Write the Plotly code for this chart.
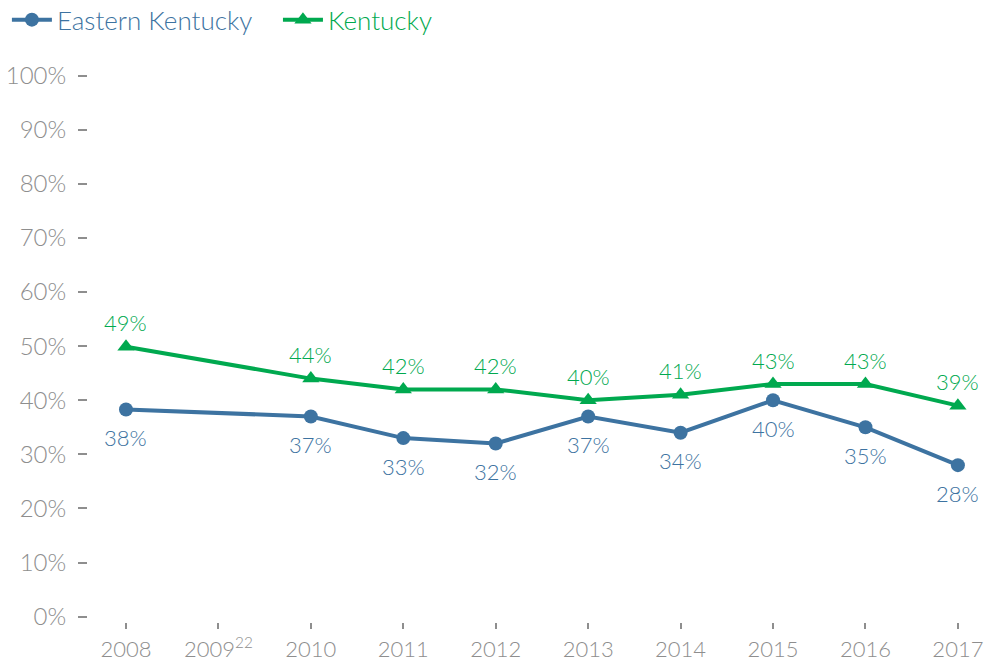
import plotly.graph_objects as go

years = ["2008", "2009<sup>22</sup>", "2010", "2011", "2012", "2013", "2014", "2015", "2016", "2017"]
eastern_ky = [38.3, None, 37, 33, 32, 37, 34, 40, 35, 28]
eastern_ky_labels = ["38%", "", "37%", "33%", "32%", "37%", "34%", "40%", "35%", "28%"]
kentucky = [49.9, None, 44, 42, 42, 40, 41, 43, 43, 39]
kentucky_labels = ["49%", "", "44%", "42%", "42%", "40%", "41%", "43%", "43%", "39%"]
y_ticks = [0, 10, 20, 30, 40, 50, 60, 70, 80, 90, 100]
y_tick_labels = [f"{v}%" for v in y_ticks]

BLUE = "#3D73A1"
GREEN = "#00A94F"
GRAY = "#8E8E8E"
FONT = "Lato"

x = list(range(len(years)))

fig = go.Figure()
fig.add_trace(go.Scatter(
    x=x, y=eastern_ky, name=f"<span style='color:{BLUE}'>Eastern Kentucky</span>&nbsp;&nbsp;&nbsp;",
    mode="lines+markers", connectgaps=True,
    line=dict(color=BLUE, width=4), marker=dict(symbol="circle", size=14, color=BLUE),
))
fig.add_trace(go.Scatter(
    x=x, y=kentucky, name=f"<span style='color:{GREEN}'>Kentucky</span>",
    mode="lines+markers", connectgaps=True,
    line=dict(color=GREEN, width=4), marker=dict(symbol="triangle-up", size=15, color=GREEN),
))

for xi, v, t in zip(x, eastern_ky, eastern_ky_labels):
    if v is not None:
        fig.add_annotation(x=xi, y=v, text=t, showarrow=False, yshift=-28,
                           font=dict(color=BLUE, size=22, family=FONT, weight=300))
for xi, v, t in zip(x, kentucky, kentucky_labels):
    if v is not None:
        fig.add_annotation(x=xi, y=v, text=t, showarrow=False, yshift=24,
                           font=dict(color=GREEN, size=22, family=FONT, weight=300))

fig.update_layout(
    width=987, height=662,
    margin=dict(l=88, r=6, t=73, b=40, autoexpand=False),
    paper_bgcolor="white", plot_bgcolor="white",
    font=dict(family=FONT, color=GRAY, size=23, weight=300),
    showlegend=True,
    legend=dict(orientation="h", xref="container", yref="paper", x=0.007, y=1.097,
                xanchor="left", yanchor="middle",
                font=dict(size=26, family=FONT, weight=300),
                itemwidth=40, traceorder="normal"),
    xaxis=dict(range=[-0.411, 9.25], tickmode="array", tickvals=x, ticktext=years,
               showgrid=False, zeroline=False, showline=False, automargin=False,
               ticks="outside", ticklen=6, tickcolor=GRAY, tickwidth=1.5,
               ticklabelstandoff=2, tickfont=dict(size=22, color=GRAY)),
    yaxis=dict(range=[-1, 100.5], tickmode="array", tickvals=y_ticks, ticktext=y_tick_labels,
               showgrid=False, zeroline=False, showline=False, automargin=False,
               ticks="outside", ticklen=9, tickcolor=GRAY, tickwidth=1.5,
               ticklabelstandoff=7, tickfont=dict(size=24, color=GRAY)),
)

fig.write_html("out.html", config={"displayModeBar": False},
               post_script="document.body.style.margin='0';")
